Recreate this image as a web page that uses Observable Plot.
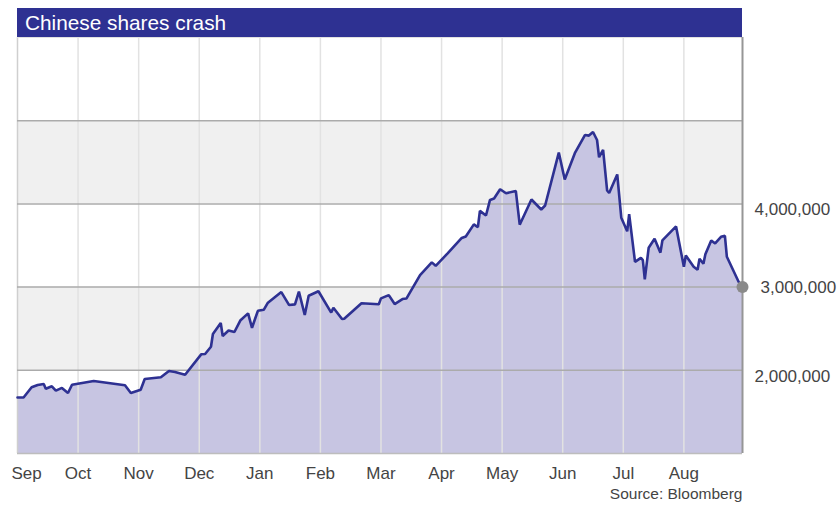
<!DOCTYPE html>
<html>
<head>
<meta charset="utf-8">
<script src="https://cdn.jsdelivr.net/npm/d3@7"></script>
<script src="https://cdn.jsdelivr.net/npm/@observablehq/plot@0.6"></script>
<style>
  body { margin: 0; background: #ffffff; }
  #title {
    margin: 8px 0 0 17px; width: 725px; height: 29px; box-sizing: border-box;
    padding-left: 8px; background: #2e3192; color: #ffffff;
    font: 20.8px "Liberation Sans", Arial, sans-serif; line-height: 30px;
  }
  #chart svg { display: block; }
</style>
</head>
<body>
<div id="title">Chinese shares crash</div>
<div id="chart"></div>
<script>
const dates = [
  "2014-09-01","2014-09-04","2014-09-08","2014-09-11","2014-09-14","2014-09-15","2014-09-18","2014-09-20","2014-09-23","2014-09-26","2014-09-28",
  "2014-10-09","2014-10-25","2014-10-28",
  "2014-11-02","2014-11-04","2014-11-12","2014-11-16","2014-11-19","2014-11-24",
  "2014-12-02","2014-12-04","2014-12-07","2014-12-08","2014-12-12","2014-12-13","2014-12-16","2014-12-19","2014-12-22","2014-12-26","2014-12-28","2014-12-31",
  "2015-01-03","2015-01-05","2015-01-12","2015-01-16","2015-01-19","2015-01-21","2015-01-24","2015-01-26","2015-01-31",
  "2015-02-06","2015-02-07","2015-02-11","2015-02-12","2015-02-20","2015-02-28",
  "2015-03-01","2015-03-05","2015-03-08","2015-03-12","2015-03-14","2015-03-21","2015-03-27","2015-03-29",
  "2015-04-04","2015-04-11","2015-04-13","2015-04-17","2015-04-19","2015-04-20","2015-04-23","2015-04-25","2015-04-27","2015-04-30",
  "2015-05-03","2015-05-08","2015-05-10","2015-05-16","2015-05-21","2015-05-23","2015-05-30",
  "2015-06-02","2015-06-07","2015-06-12","2015-06-14","2015-06-16","2015-06-18","2015-06-19","2015-06-21","2015-06-23","2015-06-24","2015-06-28","2015-06-30",
  "2015-07-03","2015-07-04","2015-07-07","2015-07-10","2015-07-11","2015-07-12","2015-07-14","2015-07-17","2015-07-20","2015-07-21","2015-07-28",
  "2015-08-01","2015-08-02","2015-08-06","2015-08-08","2015-08-09","2015-08-11","2015-08-12","2015-08-15","2015-08-17","2015-08-20","2015-08-22","2015-08-23","2015-08-29","2015-08-31"
];
const values = [
  1673000,1673000,1796000,1824000,1836000,1779000,1808000,1755000,1788000,1727000,1827000,
  1872000,1820000,1727000,
  1767000,1896000,1916000,1992000,1980000,1947000,
  2192000,2196000,2283000,2436000,2568000,2412000,2478000,2460000,2598000,2684000,2511000,2715000,
  2727000,2808000,2940000,2784000,2792000,2946000,2664000,2896000,2950000,
  2694000,2751000,2616000,2619000,2806000,2794000,
  2864000,2904000,2796000,2856000,2862000,3144000,3297000,3256000,
  3405000,3591000,3609000,3754000,3720000,3916000,3861000,4048000,4065000,4176000,
  4128000,4156000,3750000,4053000,3933000,3981000,4617000,
  4294000,4609000,4828000,4821000,4864000,4768000,4561000,4648000,4161000,4132000,4354000,3834000,
  3670000,3876000,3304000,3352000,3324000,3094000,3474000,3580000,3414000,3561000,3729000,
  3244000,3381000,3244000,3208000,3340000,3280000,3394000,3561000,3525000,3604000,3616000,3364000,3064000,3000000
];
const monthNames = ["Sep","Oct","Nov","Dec","Jan","Feb","Mar","Apr","May","Jun","Jul","Aug"];
const yTickValues = [2000000, 3000000, 4000000];
const gridValues = [2000000, 3000000, 4000000, 5000000];
const bandRanges = [[2000000, 3000000], [4000000, 5000000]];
const yDomain = [1000000, 6000000];
const sourceText = "Source: Bloomberg";

// month position: month index since Sep 2014 plus fraction of the month
function monthPos(s) {
  const [Y, M, D] = s.split("-").map(Number);
  const idx = (Y - 2014) * 12 + (M - 9);
  const dim = new Date(Y, M, 0).getDate();
  return idx + (D - 1) / dim;
}
const data = dates.map((d, i) => ({t: monthPos(d), v: values[i]}));
const xMax = data[data.length - 1].t;
const last = data[data.length - 1];
const months = monthNames.map((name, i) => ({i, name}));
const bands = bandRanges.map(([a, b]) => ({y1: a, y2: b}));
const fmt = d3.format(",");
const labelColor = "#444444";

const chart = Plot.plot({
  width: 837,
  height: 469,
  marginLeft: 17,
  marginRight: 95,
  marginTop: 0,
  marginBottom: 53,
  style: {fontFamily: "'Liberation Sans', Arial, sans-serif", background: "transparent"},
  x: {type: "linear", domain: [0, xMax], axis: null},
  y: {domain: yDomain, axis: null},
  marks: [
    Plot.rect(bands, {y1: "y1", y2: "y2", fill: "#f0f0f0"}),
    Plot.areaY(data, {x: "t", y1: () => yDomain[0], y2: "v", fill: "#c7c5e2"}),
    Plot.ruleX(months.filter(d => d.i > 0), {x: "i", stroke: "#e2e2e2", strokeWidth: 1.5}),
    Plot.ruleX([0], {stroke: "#cfcfcf", strokeWidth: 1.5}),
    Plot.ruleY(gridValues, {stroke: "#ababab", strokeWidth: 1.5}),
    Plot.ruleY([yDomain[0]], {stroke: "#bdbdbd", strokeWidth: 1.5}),
    Plot.ruleY([yDomain[1]], {stroke: "#e0e0e0", strokeWidth: 1}),
    Plot.ruleX([xMax], {stroke: "#969696", strokeWidth: 2}),
    Plot.line(data, {x: "t", y: "v", stroke: "#2e3192", strokeWidth: 2.6, strokeLinejoin: "miter"}),
    Plot.dot([last], {x: "t", y: "v", r: 6, fill: "#8a8a8a", stroke: "none"}),
    Plot.text(yTickValues.filter(v => v !== last.v), {x: () => xMax, y: d => d, text: d => fmt(d), textAnchor: "start", dx: 12, dy: 6, fontSize: 17, fill: labelColor}),
    Plot.text(yTickValues.filter(v => v === last.v), {x: () => xMax, y: d => d, text: d => fmt(d), textAnchor: "start", dx: 18, dy: 0, fontSize: 17, fill: labelColor}),
    Plot.text(months.filter(d => d.i === 0), {x: "i", y: () => yDomain[0], text: "name", dy: 20, dx: 9, fontSize: 17, fill: labelColor}),
    Plot.text(months.filter(d => d.i > 0), {x: "i", y: () => yDomain[0], text: "name", dy: 20, fontSize: 17, fill: labelColor}),
    Plot.text([sourceText], {frameAnchor: "bottom-right", text: d => d, textAnchor: "end", dy: 45, fontSize: 15.5, fill: labelColor})
  ]
});
document.getElementById("chart").appendChild(chart);
</script>
</body>
</html>
